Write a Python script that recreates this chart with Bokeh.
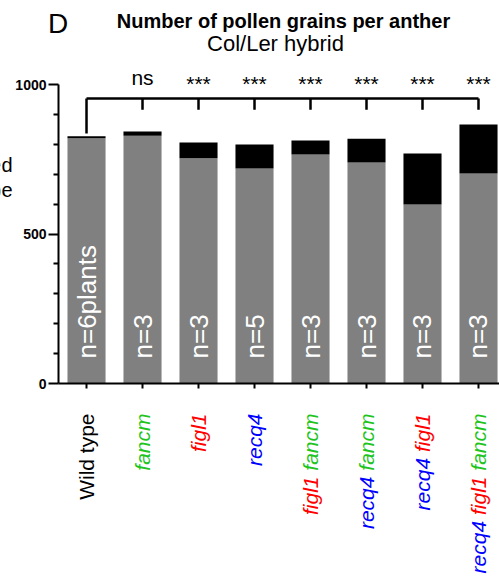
from bokeh.plotting import figure
from bokeh.models import Label, LabelSet, ColumnDataSource, FixedTicker, Range1d
from bokeh.core.properties import value
from bokeh.embed import file_html
from bokeh.resources import INLINE

# ---- data ----
genotypes = ["Wild type", "fancm", "figl1", "recq4", "figl1 fancm",
             "recq4 fancm", "recq4 figl1", "recq4 figl1 fancm"]
means = [820, 829, 753, 719, 766, 739, 599, 702]
sds = [7, 14, 53, 80, 47, 80, 170, 164]
n_labels = ["n=6plants", "n=3", "n=3", "n=5", "n=3", "n=3", "n=3", "n=3"]
signif = ["ns", "***", "***", "***", "***", "***", "***"]
y_ticks = [0, 500, 1000]
y_minor = [100, 200, 300, 400, 600, 700, 800, 900]

gene_colors = {"fancm": "#1fc41f", "figl1": "#ff0000", "recq4": "#0000ff"}
FONT = "Liberation Sans"
W, H = 499, 576

idx = list(range(len(genotypes)))
tops = [m + s for m, s in zip(means, sds)]

# the frame covers the whole canvas; axes are pinned with fixed_location
p = figure(width=W, height=H, x_range=Range1d(-1.536, 7.375), y_range=Range1d(-645.5, 1281),
           output_backend="svg", toolbar_location=None,
           min_border_left=0, min_border_right=0, min_border_top=0, min_border_bottom=0)
p.outline_line_color = None
p.xgrid.visible = False
p.ygrid.visible = False
p.background_fill_color = "white"
p.border_fill_color = "white"

# bars
p.vbar(x=idx, bottom=0, top=means, width=0.68, fill_color="#808080", line_color=None)
p.vbar(x=idx, bottom=means, top=tops, width=0.68, fill_color="black", line_color=None)

# y axis
ya = p.yaxis[0]
ya.fixed_location = -0.5
ya.ticker = FixedTicker(ticks=y_ticks, minor_ticks=y_minor)
ya.bounds = (0, 1000)
ya.axis_line_width = 2
ya.major_tick_line_width = 2
ya.minor_tick_line_width = 2
ya.major_tick_out = 10
ya.major_tick_in = 0
ya.minor_tick_out = 5
ya.minor_tick_in = 0
ya.major_label_text_font = FONT
ya.major_label_text_font_style = "bold"
ya.major_label_text_font_size = "14px"
ya.major_label_text_color = "black"
ya.major_label_standoff = 2

# x axis
xa = p.xaxis[0]
xa.fixed_location = 0
xa.ticker = FixedTicker(ticks=idx)
xa.bounds = (-0.5, 7.375)
xa.axis_line_width = 2
xa.major_tick_line_width = 2
xa.major_tick_out = 5
xa.major_tick_in = 0
xa.minor_tick_line_color = None
xa.major_label_overrides = {i: "" for i in idx}

# significance bracket
bracket_y = 953
p.segment(x0=[idx[0]], y0=[bracket_y], x1=[idx[-1]], y1=[bracket_y], line_color="black", line_width=2.5)
drop = [tops[0] + 9] + [bracket_y - 37] * (len(idx) - 1)
p.segment(x0=idx, y0=[bracket_y] * len(idx), x1=idx, y1=drop, line_color="black", line_width=2.5)

sig_y = [1024 if s == "ns" else 1002 for s in signif]
p.text(x=idx[1:], y=sig_y, text=signif, text_align="center", text_baseline="alphabetic",
       text_font=value(FONT), text_font_size="21px", text_color="black")

# n labels inside bars
src = ColumnDataSource(dict(x=idx, y=[0] * len(idx), t=n_labels))
p.add_layout(LabelSet(x="x", y="y", text="t", source=src, angle=90, angle_units="deg",
                      y_offset=25, text_align="left", text_baseline="middle",
                      text_font=value(FONT), text_font_size="26px", text_color="white"))

# x category labels (multi-coloured words); screen y measured up from the bottom
LAB_Y = H - 413
for i, g in enumerate(genotypes):
    words = g.split(" ")
    if g == "Wild type":
        p.add_layout(Label(x=i, y=LAB_Y, x_units="data", y_units="screen", text=g, angle=90,
                           angle_units="deg", text_align="right", text_baseline="middle",
                           text_font=FONT, text_font_size="21px", text_color="black"))
        continue
    for k in range(len(words)):
        p.add_layout(Label(x=i, y=LAB_Y, x_units="data", y_units="screen",
                           text=" ".join(words[k:]), angle=90, angle_units="deg",
                           text_align="right", text_baseline="middle",
                           text_font=FONT, text_font_size="21px", text_font_style="italic",
                           text_color=gene_colors[words[k]],
                           background_fill_color="white" if k > 0 else None))

# titles
p.add_layout(Label(x=57.5, y=H - 23, x_units="screen", y_units="screen", text="D",
                   text_align="center", text_baseline="middle", text_font=FONT,
                   text_font_size="28px", text_color="black"))
p.add_layout(Label(x=283, y=H - 20, x_units="screen", y_units="screen",
                   text="Number of pollen grains per anther", text_align="center",
                   text_baseline="middle", text_font=FONT, text_font_size="20px",
                   text_font_style="bold", text_color="black"))
p.add_layout(Label(x=275, y=H - 43, x_units="screen", y_units="screen", text="Col/Ler hybrid",
                   text_align="center", text_baseline="middle", text_font=FONT,
                   text_font_size="22px", text_color="black"))
# y axis title (mostly cut off at the left edge)
for yy, t in [(H - 164, "Normalized"), (H - 189, "to wild type")]:
    p.add_layout(Label(x=12, y=yy, x_units="screen", y_units="screen", text=t,
                       text_align="right", text_baseline="middle", text_font=FONT,
                       text_font_size="20px", text_color="black"))

open("out.html", "w").write(file_html(p, INLINE))
